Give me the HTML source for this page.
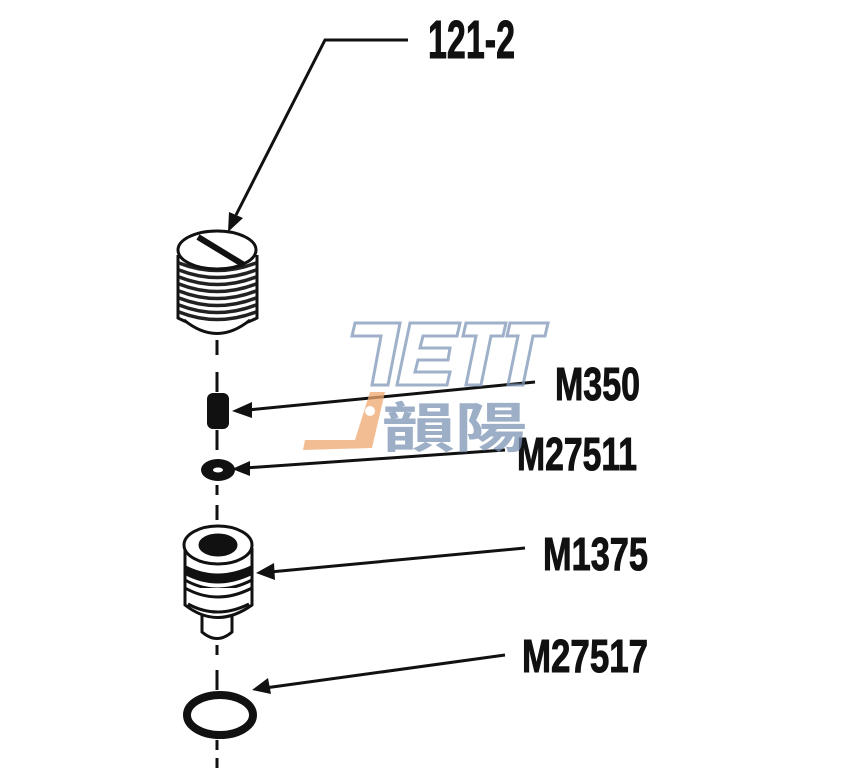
<!DOCTYPE html>
<html><head><meta charset="utf-8"><style>html,body{margin:0;padding:0;background:#fff}svg{display:block}</style></head>
<body>
<svg width="852" height="768" viewBox="0 0 852 768" xmlns="http://www.w3.org/2000/svg">
<rect width="852" height="768" fill="#fff"/>
<g font-family="Liberation Sans, sans-serif" font-weight="bold" fill="#111" stroke="#111" stroke-width="1">
<text x="428" y="58" font-size="54" textLength="87" lengthAdjust="spacingAndGlyphs">121-2</text>
<text x="555" y="400" font-size="46" textLength="85" lengthAdjust="spacingAndGlyphs">M350</text>
<text x="517" y="470" font-size="46" textLength="120" lengthAdjust="spacingAndGlyphs">M27511</text>
<text x="543" y="570" font-size="46" textLength="105" lengthAdjust="spacingAndGlyphs">M1375</text>
<text x="522" y="672" font-size="46" textLength="126" lengthAdjust="spacingAndGlyphs">M27517</text>
</g>
<g stroke="#111" fill="none" stroke-width="3">
<polyline points="408,40 325,40 236,215"/>
<line x1="535" y1="382" x2="248" y2="410"/>
<line x1="505" y1="450" x2="245" y2="468"/>
<line x1="525" y1="548" x2="270" y2="572"/>
<line x1="505" y1="655" x2="265" y2="688"/>
</g>
<g fill="#111">
<polygon points="228,232 229,212 243,218"/>
<polygon points="232,411 252,402 252,418"/>
<polygon points="232,469 250,461 250,476"/>
<polygon points="256,573 274,563 275,580"/>
<polygon points="252,690 268,678 271,694"/>
</g>
<g stroke="#111" stroke-width="3">
<line x1="217" y1="340" x2="217" y2="355"/><line x1="217" y1="372" x2="217" y2="392"/>
<line x1="217" y1="430" x2="217" y2="450"/><line x1="217" y1="485" x2="217" y2="495"/>
<line x1="217" y1="505" x2="217" y2="520"/><line x1="217" y1="645" x2="217" y2="655"/>
<line x1="217" y1="670" x2="217" y2="690"/><line x1="217" y1="740" x2="217" y2="750"/>
<line x1="217" y1="758" x2="217" y2="768"/>
</g>
<g stroke="#111" stroke-width="3" fill="#fff">
<path d="M178,255 L178,318 Q217,338 257,318 L257,255"/>
<path d="M184,320 Q217,347 250,320" />
</g>
<g stroke="#222" stroke-width="3.5" fill="none">
<path d="M179,263 Q217,278 256,263"/><path d="M179,270 Q217,285 256,270"/><path d="M179,277 Q217,292 256,277"/>
<path d="M179,284 Q217,299 256,284"/><path d="M179,291 Q217,306 256,291"/><path d="M179,298 Q217,313 256,298"/>
<path d="M179,305 Q217,320 256,305"/><path d="M179,312 Q217,327 256,312"/>
</g>
<g stroke="#111" stroke-width="3" fill="#fff">
<ellipse cx="217" cy="250" rx="39" ry="19"/>
<line x1="198" y1="237" x2="244" y2="265" stroke-width="6"/>
</g>
<rect x="207" y="393" width="22" height="36" rx="6" fill="#111"/>
<ellipse cx="218" cy="470" rx="17" ry="11" fill="#111"/>
<ellipse cx="218" cy="470" rx="5" ry="2.5" fill="#fff"/>
<g stroke="#111" stroke-width="3" fill="#fff">
<path d="M202,615 L202,632 Q217,645 232,632 L232,615"/>
<path d="M185,548 L185,605 Q217,630 252,605 L252,548"/>
<path d="M185,580 Q217,598 252,580"/><path d="M185,588 Q217,606 252,588"/>
<path d="M188,604 Q217,620 249,604"/>
<ellipse cx="218" cy="545" rx="34" ry="19"/>
<ellipse cx="218" cy="545" rx="18" ry="10" fill="#111"/>
</g>
<path d="M185,565 Q217,582 252,565 L252,575 Q217,592 185,575Z" fill="#111"/>
<ellipse cx="220" cy="715" rx="33" ry="20" fill="none" stroke="#111" stroke-width="8"/>
<g opacity="0.75">
<g fill="none" stroke="#7f97b8" stroke-width="3">
<path d="M355,323 L400,323 L388,385 L372,385 L381,336 L352,336Z"/>
<path d="M410,323 L460,323 L457,336 L423,336 L420,348 L450,348 L448,360 L418,360 L415,372 L450,372 L447,385 L397,385Z"/>
<path d="M466,323 L506,323 L503,336 L491,336 L481,385 L466,385 L476,336 L463,336Z"/>
<path d="M510,323 L548,323 L545,336 L533,336 L523,385 L508,385 L518,336 L507,336Z"/>
</g>
<path d="M305,440 L355,440 L370,392 L385,392 L372,448 L303,450Z" fill="#f0a870"/>
<circle cx="370" cy="411" r="5" fill="#fff"/>
<text x="382" y="447" font-family="Noto Sans CJK TC, sans-serif" font-weight="bold" font-size="54" fill="#7d93b5" textLength="145" lengthAdjust="spacingAndGlyphs">韻陽</text>
</g>
</svg>
</body></html>
